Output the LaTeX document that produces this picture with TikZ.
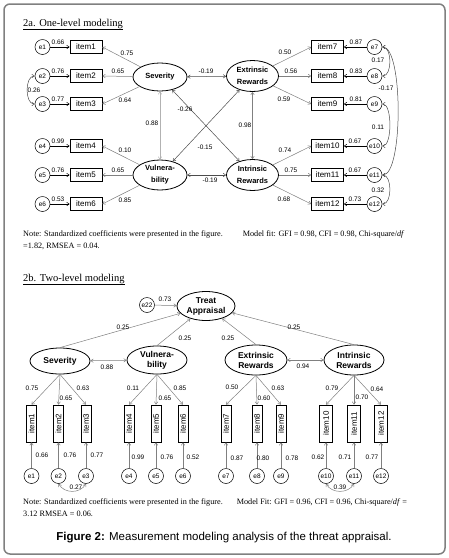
\documentclass[tikz,border=0pt]{standalone}
\usepackage{fontspec}
\setmainfont{Liberation Serif}
\setsansfont{Liberation Sans}
\usetikzlibrary{shapes.geometric}
\usetikzlibrary{arrows.meta}
\usetikzlibrary{positioning}

\tikzset{
  lbl/.style={font=\sffamily\fontsize{6.5}{7}\selectfont, inner sep=0pt},
  errnode/.style={circle, draw, line width=0.5pt, minimum size=15pt, inner sep=0pt, font=\sffamily\fontsize{6.5}{7}\selectfont},
  itembox/.style={rectangle, draw, line width=0.7pt, minimum width=32pt, minimum height=13pt, inner sep=0pt, font=\sffamily\fontsize{8}{9}\selectfont},
  vitembox/.style={itembox, rotate=90, minimum width=37pt, minimum height=10pt},
  latent/.style={ellipse, draw, line width=0.8pt, inner sep=0pt, align=center, font=\sffamily\bfseries\fontsize{7.5}{12}\selectfont},
  latentb/.style={latent, font=\sffamily\bfseries\fontsize{8.5}{10}\selectfont},
  notetext/.style={font=\fontsize{8.2}{9}\selectfont, inner sep=0pt, anchor=base west},
  titletext/.style={font=\fontsize{10.5}{12}\selectfont, inner sep=0pt, anchor=base west}
}

\begin{document}
\begin{tikzpicture}[x=1pt, y=-1pt, >={Straight Barb[length=2.5pt,width=3.5pt]}, line width=0.5pt]

\useasboundingbox (0,0) rectangle (449,558);
\draw[rounded corners=6pt, line width=1.5pt, black!50] (4,4) rectangle (445,554);

\node[titletext] (title2a) at (23,26) {\underline{2a. One-level modeling}};

\node[errnode] (ae1) at (42.5,47) {e1};
\node[errnode] (ae2) at (42.5,76) {e2};
\node[errnode] (ae3) at (42.5,104) {e3};
\node[errnode] (ae4) at (42.5,146) {e4};
\node[errnode] (ae5) at (42.5,175) {e5};
\node[errnode] (ae6) at (42.5,204) {e6};

\node[itembox] (aitem1) at (86,47) {item1};
\node[itembox] (aitem2) at (86,76) {item2};
\node[itembox] (aitem3) at (86,104) {item3};
\node[itembox] (aitem4) at (86,146) {item4};
\node[itembox] (aitem5) at (86,175) {item5};
\node[itembox] (aitem6) at (86,204) {item6};

\node[itembox] (aitem7) at (327.5,47) {item7};
\node[itembox] (aitem8) at (327.5,76) {item8};
\node[itembox] (aitem9) at (327.5,104) {item9};
\node[itembox] (aitem10) at (327.5,146) {item10};
\node[itembox] (aitem11) at (327.5,175) {item11};
\node[itembox] (aitem12) at (327.5,204) {item12};

\node[errnode] (ae7) at (374.5,47) {e7};
\node[errnode] (ae8) at (374.5,76) {e8};
\node[errnode] (ae9) at (374.5,104) {e9};
\node[errnode] (ae10) at (374.5,146) {e10};
\node[errnode] (ae11) at (374.5,175) {e11};
\node[errnode] (ae12) at (374.5,204) {e12};

\node[latent, minimum width=54pt, minimum height=28pt] (asev) at (160,77) {Severity};
\node[latent, minimum width=54pt, minimum height=30pt] (avul) at (160,175) {Vulnera-\\bility};
\node[latent, minimum width=52pt, minimum height=31pt] (aext) at (252.5,76) {Extrinsic\\Rewards};
\node[latent, minimum width=52pt, minimum height=31pt] (aint) at (252.5,175) {Intrinsic\\Rewards};

\draw[->] (ae1) -- (aitem1);
\draw[->] (ae2) -- (aitem2);
\draw[->] (ae3) -- (aitem3);
\draw[->] (ae4) -- (aitem4);
\draw[->] (ae5) -- (aitem5);
\draw[->] (ae6) -- (aitem6);
\draw[->] (ae7) -- (aitem7);
\draw[->] (ae8) -- (aitem8);
\draw[->] (ae9) -- (aitem9);
\draw[->] (ae10) -- (aitem10);
\draw[->] (ae11) -- (aitem11);
\draw[->] (ae12) -- (aitem12);

\draw[->, gray] (asev) -- (aitem1.east);
\draw[->, gray] (asev) -- (aitem2.east);
\draw[->, gray] (asev) -- (aitem3.east);
\draw[->, gray] (avul) -- (aitem4.east);
\draw[->, gray] (avul) -- (aitem5.east);
\draw[->, gray] (avul) -- (aitem6.east);
\draw[->, gray] (aext) -- (aitem7.west);
\draw[->, gray] (aext) -- (aitem8.west);
\draw[->, gray] (aext) -- (aitem9.west);
\draw[->, gray] (aint) -- (aitem10.west);
\draw[->, gray] (aint) -- (aitem11.west);
\draw[->, gray] (aint) -- (aitem12.west);

\draw[<->, black!70] (asev) -- (aext);
\draw[<->, black!30] (asev) -- (avul);
\draw[<->, gray] (aext) -- (aint);
\draw[<->, black!70] (asev) -- (aint);
\draw[<->, black!70] (avul) -- (aext);
\draw[<->, black!70] (avul) -- (aint);

\draw[<->, black!70] (ae2.west) .. controls +(-10,0) and +(-10,0) .. (ae3.west);
\draw[<->, black!70] (ae7.east) .. controls +(10,0) and +(10,0) .. (ae8.east);
\draw[<->, black!70] (ae7.east) .. controls +(21,0) and +(21,0) .. (ae11.east);
\draw[<->, black!70] (ae9.east) .. controls +(10,0) and +(10,0) .. (ae10.east);
\draw[<->, black!70] (ae11.east) .. controls +(10,0) and +(10,0) .. (ae12.east);

\node[lbl] (ac1) at (58,42) {0.66};
\node[lbl] (ac2) at (58,71) {0.76};
\node[lbl] (ac3) at (58,99) {0.77};
\node[lbl] (ac4) at (58,141) {0.99};
\node[lbl] (ac5) at (58,170) {0.76};
\node[lbl] (ac6) at (58,199) {0.53};
\node[lbl] (ac7) at (356,42) {0.87};
\node[lbl] (ac8) at (356,71) {0.83};
\node[lbl] (ac9) at (356,99) {0.81};
\node[lbl] (ac10) at (355,141) {0.67};
\node[lbl] (ac11) at (355,170) {0.67};
\node[lbl] (ac12) at (355,199) {0.73};

\node[lbl] (al1) at (127,53) {0.75};
\node[lbl] (al2) at (118,71) {0.65};
\node[lbl] (al3) at (125,100) {0.64};
\node[lbl] (al4) at (125,150) {0.10};
\node[lbl] (al5) at (118,170) {0.65};
\node[lbl] (al6) at (125,200) {0.85};
\node[lbl] (al7) at (285,52) {0.50};
\node[lbl] (al8) at (291,71) {0.56};
\node[lbl] (al9) at (284,99) {0.59};
\node[lbl] (al10) at (285,150) {0.74};
\node[lbl] (al11) at (291,170) {0.75};
\node[lbl] (al12) at (284,199) {0.68};

\node[lbl] (ar1) at (206,71) {-0.19};
\node[lbl] (ar2) at (152,123) {0.88};
\node[lbl] (ar3) at (245,125) {0.98};
\node[lbl] (ar4) at (185,109) {-0.26};
\node[lbl] (ar5) at (205,147) {-0.15};
\node[lbl] (ar6) at (210,180) {-0.19};
\node[lbl] (ar7) at (34,90) {0.26};
\node[lbl] (ar8) at (378,60) {0.17};
\node[lbl] (ar9) at (386,88) {-0.17};
\node[lbl] (ar10) at (378,127) {0.11};
\node[lbl] (ar11) at (378,190) {0.32};

\node[notetext] (note2a) at (23,236) {Note: Standardized coefficients were presented in the figure.\hspace{20pt}Model fit: GFI = 0.98, CFI = 0.98, Chi-square/\textit{df}};
\node[notetext] (note2aa) at (23,248) {=1.82, RMSEA = 0.04.};

\node[titletext] (title2b) at (23,281) {\underline{2b. Two-level modeling}};

\node[latentb, minimum width=58pt, minimum height=29pt] (btreat) at (206,306) {Treat\\Appraisal};
\node[errnode] (be22) at (147,305) {e22};
\node[latentb, minimum width=60pt, minimum height=26pt] (bsev) at (60,361) {Severity};
\node[latentb, minimum width=60pt, minimum height=28pt] (bvul) at (157,360) {Vulnera-\\bility};
\node[latentb, minimum width=62pt, minimum height=30pt] (bext) at (256,360) {Extrinsic\\Rewards};
\node[latentb, minimum width=60pt, minimum height=30pt] (bint) at (354,360) {Intrinsic\\Rewards};

\node[vitembox] (bitem1) at (31.5,423.5) {item1};
\node[vitembox] (bitem2) at (58.5,423.5) {item2};
\node[vitembox] (bitem3) at (86,423.5) {item3};
\node[vitembox] (bitem4) at (129,423.5) {item4};
\node[vitembox] (bitem5) at (156,423.5) {item5};
\node[vitembox] (bitem6) at (183,423.5) {item6};
\node[vitembox] (bitem7) at (226,423.5) {item7};
\node[vitembox] (bitem8) at (257,423.5) {item8};
\node[vitembox] (bitem9) at (281,423.5) {item9};
\node[vitembox, minimum height=13pt] (bitem10) at (326,423.5) {item10};
\node[vitembox, minimum height=13pt] (bitem11) at (354,423.5) {item11};
\node[vitembox, minimum height=13pt] (bitem12) at (381,423.5) {item12};

\node[errnode] (be1) at (31.5,476) {e1};
\node[errnode] (be2) at (58.5,476) {e2};
\node[errnode] (be3) at (86,476) {e3};
\node[errnode] (be4) at (129,476) {e4};
\node[errnode] (be5) at (156,476) {e5};
\node[errnode] (be6) at (183,476) {e6};
\node[errnode] (be7) at (226,476) {e7};
\node[errnode] (be8) at (257,476) {e8};
\node[errnode] (be9) at (281,476) {e9};
\node[errnode] (be10) at (326,476) {e10};
\node[errnode] (be11) at (354,476) {e11};
\node[errnode] (be12) at (381,476) {e12};

\draw[->, gray] (be22) -- (btreat);
\draw[->, gray] (bsev.north) -- (btreat);
\draw[->, gray] (bvul.north) -- (btreat);
\draw[->, gray] (bext.north) -- (btreat);
\draw[->, gray] (bint.north) -- (btreat);

\draw[<->, gray] (bsev) -- (bvul);
\draw[<->, gray] (bext) -- (bint);

\draw[->, gray] (bsev.south) -- (bitem1.east);
\draw[->, gray] (bsev.south) -- (bitem2.east);
\draw[->, gray] (bsev.south) -- (bitem3.east);
\draw[->, gray] (bvul.south) -- (bitem4.east);
\draw[->, gray] (bvul.south) -- (bitem5.east);
\draw[->, gray] (bvul.south) -- (bitem6.east);
\draw[->, gray] (bext.south) -- (bitem7.east);
\draw[->, gray] (bext.south) -- (bitem8.east);
\draw[->, gray] (bext.south) -- (bitem9.east);
\draw[->, gray] (bint.south) -- (bitem10.east);
\draw[->, gray] (bint.south) -- (bitem11.east);
\draw[->, gray] (bint.south) -- (bitem12.east);

\draw[->, gray] (be1) -- (bitem1.west);
\draw[->, gray] (be2) -- (bitem2.west);
\draw[->, gray] (be3) -- (bitem3.west);
\draw[->, gray] (be4) -- (bitem4.west);
\draw[->, gray] (be5) -- (bitem5.west);
\draw[->, gray] (be6) -- (bitem6.west);
\draw[->, gray] (be7) -- (bitem7.west);
\draw[->, gray] (be8) -- (bitem8.west);
\draw[->, gray] (be9) -- (bitem9.west);
\draw[->, gray] (be10) -- (bitem10.west);
\draw[->, gray] (be11) -- (bitem11.west);
\draw[->, gray] (be12) -- (bitem12.west);

\draw[<->, gray] (be2.south) .. controls +(6,10) and +(-6,10) .. (be3.south);
\draw[<->, gray] (be10.south) .. controls +(6,10) and +(-6,10) .. (be11.south);

\node[lbl] (bc22) at (165,299) {0.73};
\node[lbl] (bg1) at (123,327) {0.25};
\node[lbl] (bg2) at (185,338) {0.25};
\node[lbl] (bg3) at (228,338) {0.25};
\node[lbl] (bg4) at (294,327) {0.25};
\node[lbl] (br1) at (107,367) {0.88};
\node[lbl] (br2) at (303,366) {0.94};
\node[lbl] (br3) at (76,487) {0.27};
\node[lbl] (br4) at (340,487) {0.39};

\node[lbl] (bl1) at (32,388) {0.75};
\node[lbl] (bl2) at (66,398) {0.65};
\node[lbl] (bl3) at (83,388) {0.63};
\node[lbl] (bl4) at (133,388) {0.11};
\node[lbl] (bl5) at (165,398) {0.65};
\node[lbl] (bl6) at (180,388) {0.85};
\node[lbl] (bl7) at (232,387) {0.50};
\node[lbl] (bl8) at (264,398) {0.60};
\node[lbl] (bl9) at (278,388) {0.63};
\node[lbl] (bl10) at (332,388) {0.79};
\node[lbl] (bl11) at (362,397) {0.70};
\node[lbl] (bl12) at (377,389) {0.64};

\node[lbl] (bc1) at (42,455) {0.66};
\node[lbl] (bc2) at (70,455) {0.76};
\node[lbl] (bc3) at (97,455) {0.77};
\node[lbl] (bc4) at (138,457) {0.99};
\node[lbl] (bc5) at (167,457) {0.76};
\node[lbl] (bc6) at (193,457) {0.52};
\node[lbl] (bc7) at (237,458) {0.87};
\node[lbl] (bc8) at (263,458) {0.80};
\node[lbl] (bc9) at (292,458) {0.78};
\node[lbl] (bc10) at (318,457) {0.62};
\node[lbl] (bc11) at (345,457) {0.71};
\node[lbl] (bc12) at (372,457) {0.77};

\node[notetext] (note2b) at (23,504) {Note: Standardized coefficients were presented in the figure.\hspace{14pt}Model Fit: GFI = 0.96, CFI = 0.96, Chi-square/\textit{df} =};
\node[notetext] (note2bb) at (23,516) {3.12 RMSEA = 0.06.};

\node[font=\sffamily\fontsize{11.5}{13}\selectfont, inner sep=0pt] (caption) at (224,538) {\textbf{Figure 2:} Measurement modeling analysis of the threat appraisal.};

\end{tikzpicture}
\end{document}
